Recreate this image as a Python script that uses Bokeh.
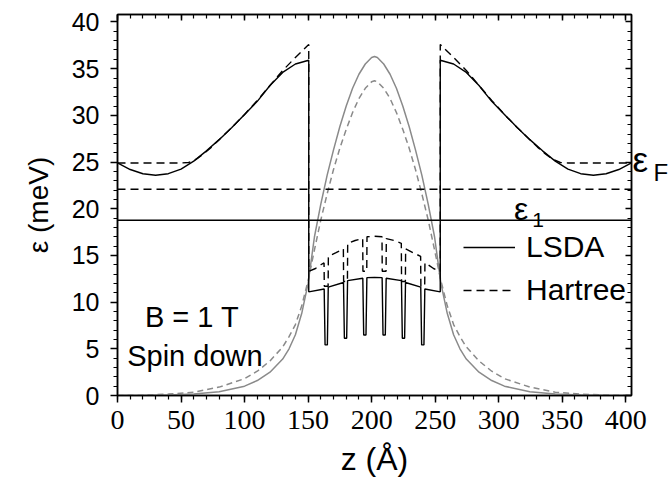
from bokeh.plotting import figure
from bokeh.models import (LinearAxis, Range1d, Label, Legend, LegendItem,
                          SingleIntervalTicker, FixedTicker, CustomJSTickFormatter)
from bokeh.embed import file_html
from bokeh.resources import INLINE

# ---------------- data ----------------
# LSDA potential, barrier on the left side
z_out_left = [0, 10, 20, 30, 40, 50, 60, 70, 80, 90, 100, 110, 120, 130, 140, 150.5]
e_lsda_out_left = [24.9, 24.2, 23.75, 23.58, 23.75, 24.25, 25.1, 26.2, 27.4, 28.7,
                   30.1, 31.5, 33.2, 34.6, 35.5, 35.9]
# LSDA potential, barrier on the right side
z_out_right = [254.0, 264.5, 274.5, 284.5, 294.5, 304.5, 314.5, 324.5, 334.5, 344.5,
               354.5, 364.5, 374.5, 384.5, 394.5, 404.5]
e_lsda_out_right = [35.9, 35.5, 34.6, 33.2, 31.5, 30.1, 28.7, 27.4, 26.2, 25.1,
                    24.25, 23.75, 23.58, 23.75, 24.2, 24.9]
# LSDA potential inside the well (with the six delta-doping spikes)
z_lsda_well = [150.5, 162.65, 163.35, 165.15, 165.85, 177.85, 178.55, 180.35, 181.05,
               193.05, 193.75, 195.55, 196.25, 202.25, 208.25, 208.95, 210.75, 211.45,
               223.45, 224.15, 225.95, 226.65, 238.65, 239.35, 241.15, 241.85, 254.0]
e_lsda_well = [11.1, 11.4, 5.42, 5.42, 11.6, 12.1, 6.13, 6.13, 12.3,
               12.55, 6.48, 6.48, 12.62, 12.65, 12.62, 6.48, 6.48, 12.55,
               12.3, 6.13, 6.13, 12.1, 11.6, 5.42, 5.42, 11.4, 11.1]

# Hartree potential
z_h_out_left = [0, 50, 56, 62, 68, 74, 80, 90, 100, 110, 120, 130, 140, 150.5]
e_h_out_left = [24.9, 24.9, 24.95, 25.3, 25.9, 26.6, 27.4, 28.7, 30.1, 31.6, 33.2,
                34.8, 36.2, 37.6]
z_h_out_right = [254.0, 264.5, 274.5, 284.5, 294.5, 304.5, 314.5, 324.5, 330.5,
                 336.5, 342.5, 348.5, 354.5, 404.5]
e_h_out_right = [37.6, 36.2, 34.8, 33.2, 31.6, 30.1, 28.7, 27.4, 26.6, 25.9, 25.3,
                 24.95, 24.9, 24.9]
z_h_well = [150.5, 155.8, 160, 162.55, 162.75, 165.75, 165.95, 172, 177.75, 177.95,
            180.95, 181.15, 187, 192.95, 193.15, 196.15, 196.35, 202.25, 208.15,
            208.35, 211.35, 211.55, 217.5, 223.35, 223.55, 226.55, 226.75, 232.5,
            238.55, 238.75, 241.75, 241.95, 244.5, 248.7, 254.0]
e_h_well = [13.3, 13.6, 14.0, 14.2, 11.7, 11.7, 14.9, 15.3, 15.7, 12.2,
            12.2, 16.3, 16.6, 16.8, 13.3, 13.3, 17.0, 17.05, 17.0,
            13.3, 13.3, 16.8, 16.6, 16.3, 12.2, 12.2, 15.7, 15.3,
            14.9, 11.7, 11.7, 14.2, 14.0, 13.6, 13.3]

# lowest subband energies and Fermi level
eps1_lsda = 18.77
eps1_hartree = 22.08
eps_fermi = 24.9

# electron density profiles (grey curves, arbitrary units)
z_dens = [0, 20, 40, 60, 80, 100, 110, 120, 130, 135, 140, 145, 150, 155, 160, 165,
          170, 175, 180, 185, 190, 195, 200, 202.25, 204.5, 209.5, 214.5, 219.5,
          224.5, 229.5, 234.5, 239.5, 244.5, 249.5, 254.5, 259.5, 264.5, 269.5,
          274.5, 284.5, 294.5, 304.5, 324.5, 344.5, 364.5, 384.5, 404.5]
dens_lsda = [0.0, 0.0, 0.05, 0.15, 0.4, 1.0, 1.6, 2.5, 3.9, 5.0, 6.5, 8.8, 12.0,
             17.0, 20.5, 23.6, 26.3, 28.8, 31.0, 32.9, 34.4, 35.5, 36.2, 36.3,
             36.2, 35.5, 34.4, 32.9, 31.0, 28.8, 26.3, 23.6, 20.5, 17.0, 12.0,
             8.8, 6.5, 5.0, 3.9, 2.5, 1.6, 1.0, 0.4, 0.15, 0.05, 0.0, 0.0]
dens_hartree = [0.0, 0.05, 0.15, 0.35, 0.9, 1.8, 2.6, 3.7, 5.2, 6.3, 7.6, 9.6, 12.3,
                15.6, 18.8, 21.6, 24.2, 26.5, 28.5, 30.3, 31.8, 32.9, 33.6, 33.7,
                33.6, 32.9, 31.8, 30.3, 28.5, 26.5, 24.2, 21.6, 18.8, 15.6, 12.3,
                9.6, 7.6, 6.3, 5.2, 3.7, 2.6, 1.8, 0.9, 0.35, 0.15, 0.05, 0.0]

x_ticks_interval = 50
y_ticks_interval = 5

# ---------------- figure ----------------
X0, X1 = 0, 404.5
Y0, Y1 = 0, 40.8

p = figure(width=671, height=479, output_backend="svg", toolbar_location=None,
           x_range=Range1d(X0, X1), y_range=Range1d(Y0, Y1),
           min_border_left=117, min_border_right=36, min_border_top=14,
           min_border_bottom=83, background_fill_color="white",
           border_fill_color="white")
p.grid.visible = False
p.outline_line_color = "black"
p.outline_line_width = 1.5

black = "black"
grey = "#8a8a8a"

# density curves
p.line(z_dens, dens_lsda, line_color=grey, line_width=1.5)
p.line(z_dens, dens_hartree, line_color=grey, line_width=1.5, line_dash="6 4")

# subband energies
p.line([X0, X1], [eps1_lsda, eps1_lsda], line_color=black, line_width=1.4)
p.line([X0, X1], [eps1_hartree, eps1_hartree], line_color=black, line_width=1.4,
       line_dash="8 5")

# potentials
z_lsda = z_out_left + z_lsda_well + z_out_right
e_lsda = e_lsda_out_left + e_lsda_well + e_lsda_out_right
z_h = z_h_out_left + z_h_well + z_h_out_right
e_h = e_h_out_left + e_h_well + e_h_out_right
r_lsda = p.line(z_lsda, e_lsda, line_color=black, line_width=1.4)
r_h = p.line(z_h, e_h, line_color=black, line_width=1.4, line_dash="8 5")

# ---------------- axes ----------------
font = "Liberation Sans"

ax = p.xaxis[0]
ax.ticker = SingleIntervalTicker(interval=x_ticks_interval, num_minor_ticks=5)
ax.axis_label = "z (Å)"
ax.axis_label_text_font = font
ax.axis_label_text_font_size = "32px"
ax.axis_label_text_font_style = "normal"
ax.axis_label_text_color = black
ax.axis_label_standoff = 9
ax.major_label_text_font = "Liberation Sans Narrow"
ax.major_label_text_font_size = "28px"
ax.major_label_text_color = black
ax.major_label_standoff = 8

ay = p.yaxis[0]
ay.ticker = SingleIntervalTicker(interval=y_ticks_interval, num_minor_ticks=5)
ay.axis_label = "ε (meV)"
ay.axis_label_text_font = font
ay.axis_label_text_font_size = "28px"
ay.axis_label_text_font_style = "normal"
ay.axis_label_text_color = black
ay.axis_label_standoff = 15
ay.major_label_text_font = font
ay.major_label_text_font_size = "25px"
ay.major_label_text_color = black
ay.major_label_standoff = 11

for a in (ax, ay):
    a.axis_line_width = 1.5
    a.axis_line_color = black
    a.major_tick_line_width = 1.5
    a.minor_tick_line_width = 1.2
    a.major_tick_line_color = black
    a.minor_tick_line_color = black
    a.major_tick_out = 7
    a.major_tick_in = 0
    a.minor_tick_out = 4
    a.minor_tick_in = 0

top = LinearAxis(ticker=SingleIntervalTicker(interval=x_ticks_interval, num_minor_ticks=5),
                 formatter=CustomJSTickFormatter(code="return ''"))
right = LinearAxis(ticker=SingleIntervalTicker(interval=y_ticks_interval, num_minor_ticks=5),
                   formatter=CustomJSTickFormatter(code="return ''"))
for a in (top, right):
    a.major_label_standoff = 0
    a.axis_line_width = 1.5
    a.major_tick_line_width = 1.5
    a.minor_tick_line_width = 1.2
    a.major_tick_out = 0
    a.major_tick_in = 6
    a.minor_tick_out = 0
    a.minor_tick_in = 4
p.add_layout(top, "above")
p.add_layout(right, "right")

# Fermi level marker on the right side: "ε" with subscript "F"
def marker_axis(tick, text, size, standoff):
    return LinearAxis(ticker=FixedTicker(ticks=[tick], minor_ticks=[]),
                      formatter=CustomJSTickFormatter(code="return '%s'" % text),
                      axis_line_color=None, major_tick_line_color=None,
                      minor_tick_line_color=None, major_tick_out=0, major_tick_in=0,
                      minor_tick_out=0, minor_tick_in=0,
                      major_label_standoff=standoff, major_label_text_font=font,
                      major_label_text_font_size=size, major_label_text_color=black)

p.add_layout(marker_axis(eps_fermi + 0.4, "ε", "35px", 1), "right")
p.add_layout(marker_axis(eps_fermi - 1.0, "F", "24px", 2), "right")

# ---------------- legend ----------------
legend = Legend(items=[LegendItem(label="LSDA", renderers=[r_lsda]),
                       LegendItem(label="Hartree", renderers=[r_h])],
                location=(346, 85), glyph_width=52, glyph_height=40,
                label_height=40, label_standoff=11, spacing=3, padding=0,
                margin=0, border_line_color=None, background_fill_alpha=0,
                label_text_font=font, label_text_font_size="30px",
                label_text_color=black)
p.add_layout(legend)

# ---------------- annotations ----------------
def lab(x, y, t, size):
    p.add_layout(Label(x=x, y=y, text=t, text_font=font, text_font_size=size,
                       text_color=black, text_baseline="alphabetic",
                       text_align="left"))

lab(21.6, 8.44, "B = 1 T", "29px")
lab(7.6, 4.24, "Spin down", "29px")
lab(312.0, 20.02, "ε", "32px")
lab(326.3, 18.77, "1", "21px")

html = file_html(p, INLINE)
open("out.html", "w").write(html)
